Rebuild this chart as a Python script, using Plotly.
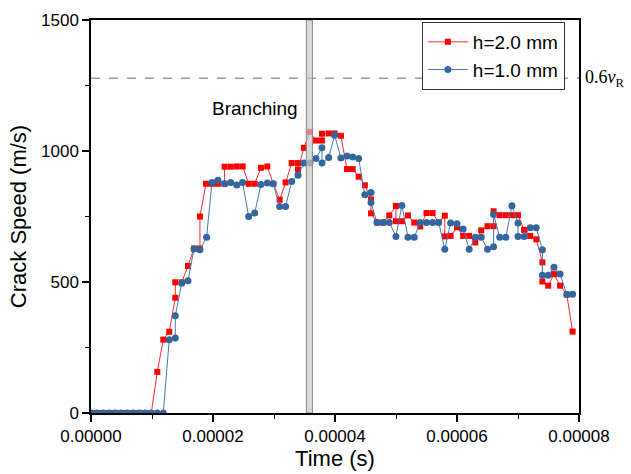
import plotly.graph_objects as go

# ---- data (time in microseconds, speed in m/s) ----
red_t_us = [0, 0.99, 1.98, 2.96, 3.95, 4.94, 5.93, 6.91, 7.90, 8.89, 9.88,
            10.87, 11.85, 12.83, 13.82, 13.82, 14.87, 15.9, 16.88, 17.86, 17.86,
            18.85, 19.83, 20.8, 21.9, 21.9, 22.9, 23.9, 24.86, 25.85, 26.83,
            27.86, 28.9, 29.88, 30.93, 31.9, 32.9, 33.93, 33.93, 34.9, 35.9,
            36.88, 37.86, 37.86, 38.96, 39.94, 40.97, 41.96, 42.9, 43.88, 44.9,
            45.9, 45.9, 46.88, 47.9, 48.9, 49.99, 49.99, 50.97, 51.96, 52.99,
            53.97, 55.0, 56.0, 57.0, 58.0, 58.0, 58.95, 60.0, 61.0, 62.0,
            63.0, 63.97, 65.0, 66.0, 66.0, 67.0, 68.0, 69.0, 70.0, 71.0,
            72.0, 73.0, 74.0, 74.0, 74.95, 75.9, 76.9, 78.0, 78.95]
red_v = [0, 0, 0, 0, 0, 0, 0, 0, 0, 0, 0,
         157, 280, 310, 440, 499, 499, 561, 628, 628, 750,
         875, 875, 875, 875, 940, 940, 941, 941, 875, 875,
         936, 941, 875, 814, 880, 954, 954, 929, 1012, 1073,
         1040, 1040, 1066, 1067, 1067, 1058, 931, 931, 902, 869,
         815, 762, 727, 727, 754, 790, 732, 732, 754, 727,
         712, 763, 763, 728, 753, 674, 676, 709, 676, 676,
         651, 697, 713, 713, 770, 755, 755, 755, 755, 699,
         676, 663, 575, 502, 486, 530, 486, 452, 311]

blue_t_us = [0, 0.99, 1.98, 2.96, 3.95, 4.94, 5.93, 6.91, 7.90, 8.89, 9.88, 10.87, 11.85,
             12.83, 13.82, 13.82, 14.87, 15.9, 16.88, 17.86, 18.95, 19.83, 20.8,
             21.9, 22.9, 23.9, 24.86, 25.85, 26.83, 27.86, 28.9, 29.88, 30.93,
             31.9, 32.9, 33.93, 34.9, 35.9, 36.88, 37.86, 37.86, 38.96, 39.94,
             40.97, 41.96, 42.9, 43.88, 44.9, 45.9, 45.9, 46.88, 47.9, 48.9,
             49.99, 50.97, 51.96, 52.99, 53.97, 55.0, 56.0, 57.0, 58.0, 58.95,
             60.0, 61.0, 62.0, 63.0, 63.97, 65.0, 66.0, 66.0, 67.0, 68.0,
             69.0, 70.0, 70.0, 71.0, 72.0, 73.0, 74.0, 74.0, 74.95, 75.9,
             76.9, 78.0, 78.95]
blue_v = [0, 0, 0, 0, 0, 0, 0, 0, 0, 0, 0, 0, 0,
          280, 286, 371, 495, 505, 626, 623, 671, 880, 888,
          875, 880, 870, 880, 750, 763, 872, 878, 875, 788,
          788, 884, 907, 954, 954, 971, 1012, 954, 975, 1060,
          973, 981, 977, 971, 833, 842, 803, 727, 727, 727,
          674, 792, 671, 671, 727, 727, 727, 727, 625, 725,
          722, 702, 625, 671, 671, 625, 635, 758, 671, 671,
          791, 725, 674, 674, 707, 707, 623, 526, 526, 556,
          531, 452, 453]

series_names = ["h=2.0 mm", "h=1.0 mm"]
x_tick_vals = [0, 0.00002, 0.00004, 0.00006, 0.00008]
x_tick_text = ["0.00000", "0.00002", "0.00004", "0.00006", "0.00008"]
y_tick_vals = [0, 500, 1000, 1500]
rayleigh_level = 1278          # 0.6 v_R
branch_band_us = [35.3, 36.3]  # grey branching band
branch_label_pos = [26.9, 1163]

US = 1e-6
red_t = [t * US for t in red_t_us]
blue_t = [t * US for t in blue_t_us]

FONT = "Arial, Liberation Sans, sans-serif"

fig = go.Figure()
fig.add_trace(go.Scatter(
    x=red_t, y=red_v, name=series_names[0], mode="lines+markers",
    line=dict(color="#ff2a2a", width=1),
    marker=dict(symbol="square", size=6, color="#ff0000"),
))
fig.add_trace(go.Scatter(
    x=blue_t, y=blue_v, name=series_names[1], mode="lines+markers",
    line=dict(color="#4a78ad", width=1),
    marker=dict(symbol="circle", size=7, color="#33669e"),
))

# dashed 0.6 vR line
fig.add_shape(type="line", xref="x", yref="y",
              x0=0, x1=0.00008, y0=rayleigh_level, y1=rayleigh_level,
              line=dict(color="#666666", width=1, dash="dash"))
# branching band
fig.add_shape(type="rect", xref="x", yref="y", layer="above",
              x0=branch_band_us[0] * US, x1=branch_band_us[1] * US, y0=0, y1=1500,
              fillcolor="rgba(200,200,200,0.7)", line=dict(color="#8a8a8a", width=1))

fig.add_annotation(x=1.0, xref="paper", y=rayleigh_level, yref="y",
                   text="0.6<i>v</i><sub>R</sub>", showarrow=False,
                   xanchor="left", yanchor="middle", xshift=4,
                   font=dict(family="Liberation Serif, Times New Roman, serif", size=18, color="black"))
fig.add_annotation(x=branch_label_pos[0] * US, y=branch_label_pos[1], xref="x", yref="y",
                   text="Branching", showarrow=False,
                   font=dict(family=FONT, size=19, color="black"))

fig.update_layout(
    width=631, height=474,
    margin=dict(l=91, r=52, t=20, b=61),
    paper_bgcolor="white", plot_bgcolor="white",
    font=dict(family=FONT, size=17, color="black"),
    showlegend=True,
    legend=dict(x=0.678, y=0.995, xanchor="left", yanchor="top",
                bgcolor="white", bordercolor="#333333", borderwidth=1,
                font=dict(family=FONT, size=19, color="black"),
                tracegroupgap=0, itemwidth=40),
)
fig.update_xaxes(
    range=[0, 0.00008], tickvals=x_tick_vals, ticktext=x_tick_text,
    showgrid=False, zeroline=False, automargin=False,
    showline=True, linecolor="black", linewidth=1.5, mirror=True,
    ticks="outside", ticklen=7, tickwidth=1.5, tickcolor="black",
    minor=dict(dtick=0.00001, ticks="outside", ticklen=4, tickwidth=1.2, tickcolor="black"),
    title=dict(text="Time (s)", font=dict(family=FONT, size=22), standoff=4),
)
fig.update_yaxes(
    range=[0, 1500], tickvals=y_tick_vals,
    showgrid=False, zeroline=False, automargin=False,
    showline=True, linecolor="black", linewidth=1.5, mirror=True,
    ticks="outside", ticklen=7, tickwidth=1.5, tickcolor="black",
    minor=dict(dtick=250, ticks="outside", ticklen=4, tickwidth=1.2, tickcolor="black"),
    title=dict(text="Crack Speed (m/s)", font=dict(family=FONT, size=22), standoff=8),
)

fig.write_html("out.html")
